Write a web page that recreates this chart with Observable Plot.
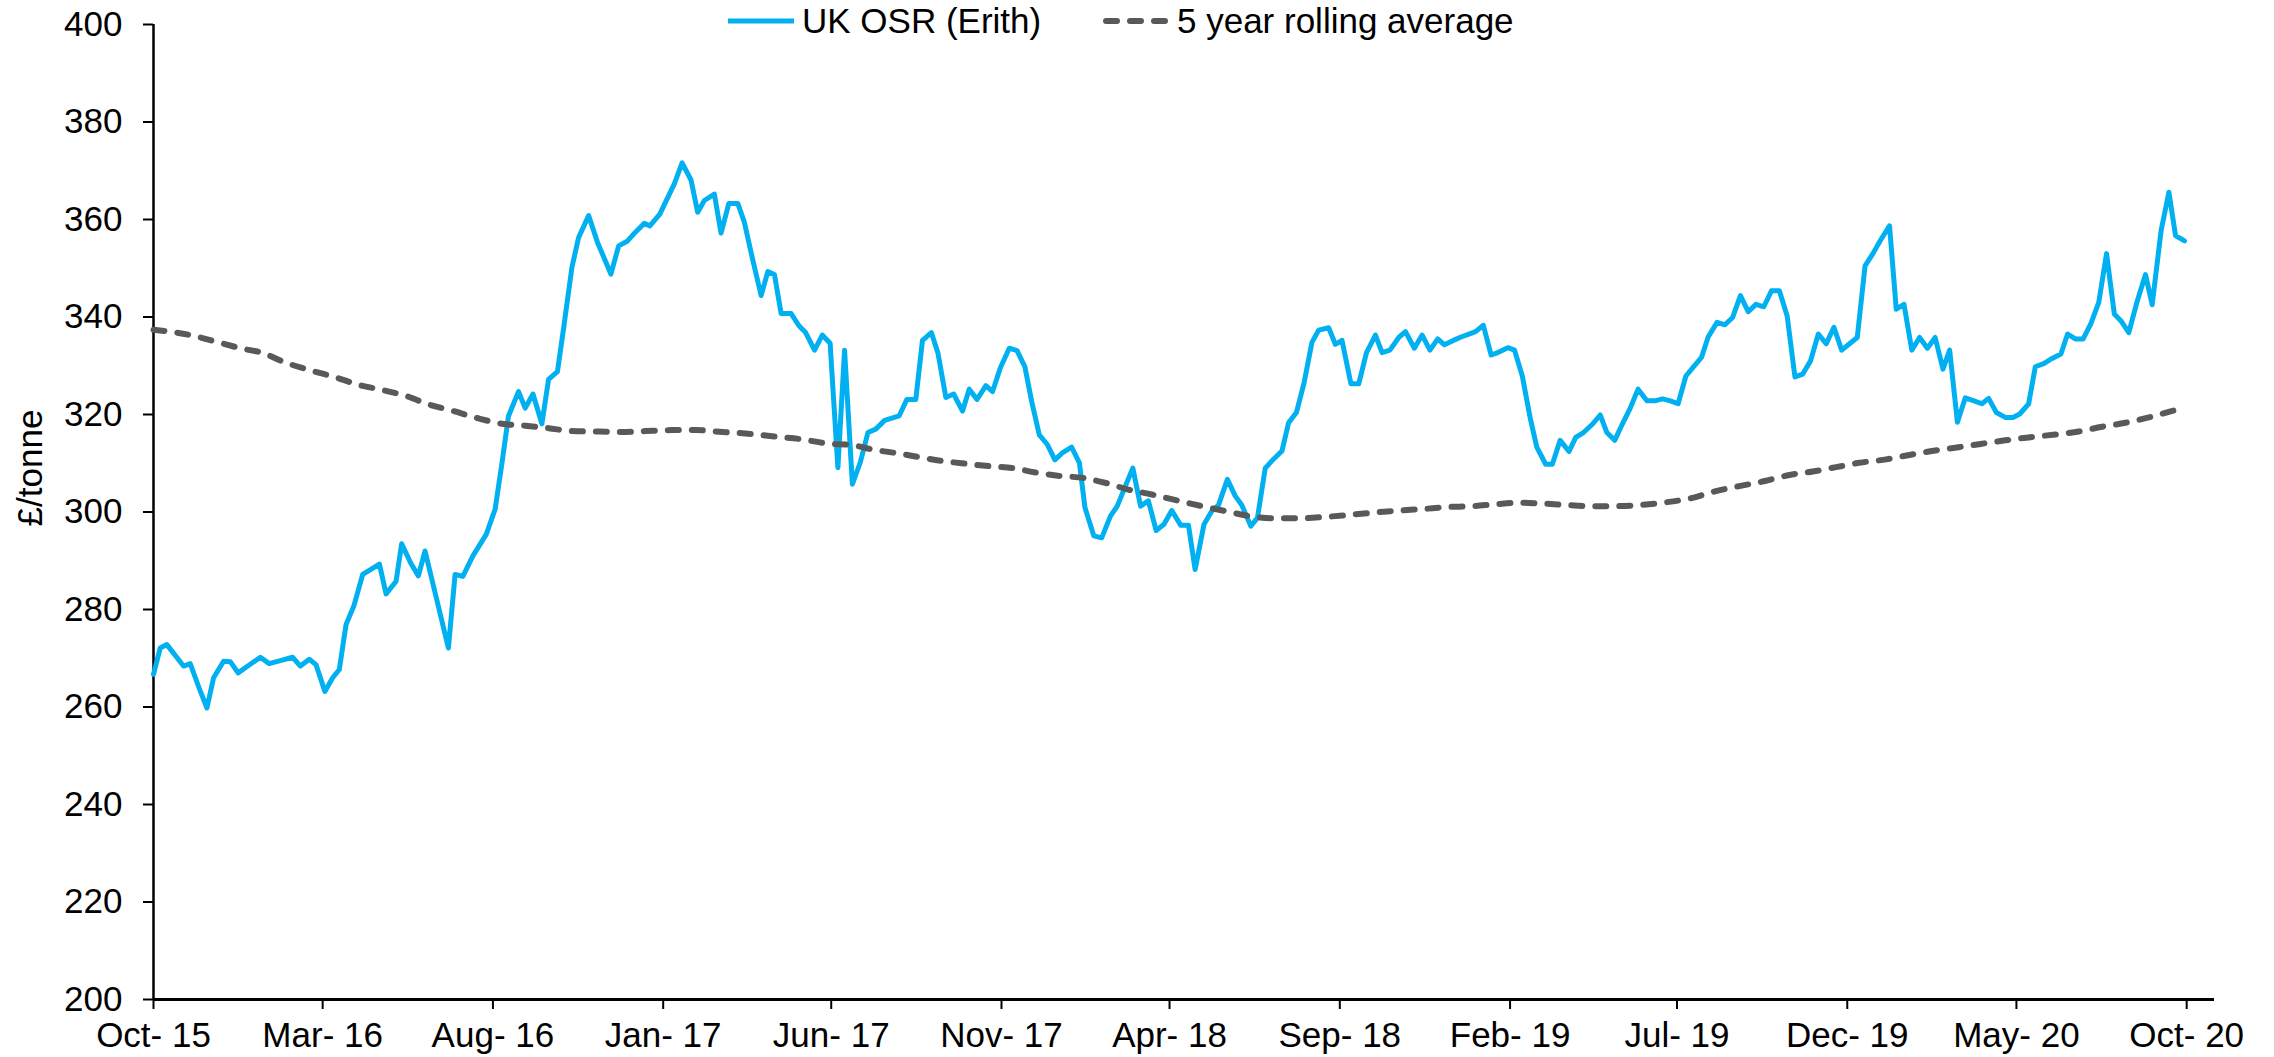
<!DOCTYPE html>
<html>
<head>
<meta charset="utf-8">
<script src="https://cdn.jsdelivr.net/npm/d3@7"></script>
<script src="https://cdn.jsdelivr.net/npm/@observablehq/plot@0.6"></script>
<style>
  html, body { margin: 0; padding: 0; background: #fff; }
  #wrap { position: relative; width: 2274px; height: 1057px; font-family: "Liberation Sans", Arial, sans-serif; color: #000; }
  #wrap svg { display: block; }
  .legend-item { position: absolute; top: 3px; height: 35px; display: flex; align-items: center; font-size: 35px; line-height: 35px; white-space: nowrap; }
  .legend-item svg { margin-right: 8px; }
  #ylabel { position: absolute; left: 30px; top: 468px; transform: translate(-50%, -50%) rotate(-90deg); font-size: 35px; white-space: nowrap; }
</style>
</head>
<body>
<div id="wrap"></div>
<script>
const seriesNames = ["UK OSR (Erith)", "5 year rolling average"];
const yTitle = "£/tonne";
const yTicks = [200, 220, 240, 260, 280, 300, 320, 340, 360, 380, 400];
const xTickDates = ["2015-10-01","2016-03-01","2016-08-01","2017-01-01","2017-06-01","2017-11-01","2018-04-01","2018-09-01","2019-02-01","2019-07-01","2019-12-01","2020-05-01","2020-10-01"];
const xTickLabels = ["Oct- 15","Mar- 16","Aug- 16","Jan- 17","Jun- 17","Nov- 17","Apr- 18","Sep- 18","Feb- 19","Jul- 19","Dec- 19","May- 20","Oct- 20"];
const xDomain = ["2015-10-01", "2020-10-26"];

const osrDates = [
"2015-10-01","2015-10-07","2015-10-13","2015-10-28","2015-11-03","2015-11-11","2015-11-18","2015-11-24","2015-12-03","2015-12-09",
"2015-12-16","2015-12-26","2016-01-05","2016-01-13","2016-01-23","2016-02-03","2016-02-10","2016-02-18","2016-02-24","2016-03-03",
"2016-03-10","2016-03-16","2016-03-22","2016-03-29","2016-04-06","2016-04-13","2016-04-21","2016-04-27","2016-05-06","2016-05-11",
"2016-05-19","2016-05-26","2016-06-01","2016-06-22","2016-06-28","2016-07-05","2016-07-14","2016-07-26","2016-08-03","2016-08-09",
"2016-08-15","2016-08-24","2016-08-30","2016-09-06","2016-09-14","2016-09-20","2016-09-28","2016-10-04","2016-10-11","2016-10-17",
"2016-10-26","2016-11-03","2016-11-15","2016-11-22","2016-11-30","2016-12-07","2016-12-15","2016-12-20","2016-12-29","2017-01-03",
"2017-01-11","2017-01-18","2017-01-26","2017-02-01","2017-02-07","2017-02-16","2017-02-22","2017-03-01","2017-03-09","2017-03-15",
"2017-03-22","2017-03-30","2017-04-05","2017-04-11","2017-04-17","2017-04-26","2017-05-03","2017-05-09","2017-05-17","2017-05-24",
"2017-05-31","2017-06-07","2017-06-13","2017-06-20","2017-06-27","2017-07-04","2017-07-11","2017-07-19","2017-08-01","2017-08-08",
"2017-08-16","2017-08-22","2017-08-30","2017-09-05","2017-09-12","2017-09-19","2017-09-27","2017-10-03","2017-10-10","2017-10-18",
"2017-10-24","2017-10-31","2017-11-08","2017-11-15","2017-11-22","2017-11-28","2017-12-05","2017-12-12","2017-12-19","2017-12-26",
"2018-01-03","2018-01-10","2018-01-15","2018-01-23","2018-01-30","2018-02-07","2018-02-13","2018-02-21","2018-02-27","2018-03-06",
"2018-03-13","2018-03-20","2018-03-27","2018-04-03","2018-04-11","2018-04-18","2018-04-24","2018-05-02","2018-05-09","2018-05-15",
"2018-05-23","2018-05-30","2018-06-05","2018-06-13","2018-06-19","2018-06-26","2018-07-02","2018-07-11","2018-07-17","2018-07-24",
"2018-07-31","2018-08-07","2018-08-13","2018-08-22","2018-08-28","2018-09-03","2018-09-11","2018-09-18","2018-09-25","2018-10-03",
"2018-10-09","2018-10-16","2018-10-24","2018-10-30","2018-11-07","2018-11-14","2018-11-21","2018-11-28","2018-12-04","2018-12-12",
"2018-12-19","2018-12-26","2019-01-01","2019-01-08","2019-01-15","2019-01-21","2019-01-30","2019-02-05","2019-02-12","2019-02-19",
"2019-02-25","2019-03-05","2019-03-11","2019-03-18","2019-03-26","2019-04-01","2019-04-08","2019-04-16","2019-04-23","2019-04-29",
"2019-05-06","2019-05-13","2019-05-20","2019-05-27","2019-06-04","2019-06-11","2019-06-18","2019-06-25","2019-07-02","2019-07-09",
"2019-07-16","2019-07-23","2019-07-29","2019-08-06","2019-08-13","2019-08-20","2019-08-27","2019-09-03","2019-09-10","2019-09-17",
"2019-09-24","2019-10-01","2019-10-08","2019-10-15","2019-10-22","2019-10-29","2019-11-05","2019-11-12","2019-11-19","2019-11-26",
"2019-12-03","2019-12-10","2019-12-17","2019-12-24","2019-12-31","2020-01-08","2020-01-14","2020-01-21","2020-01-28","2020-02-04",
"2020-02-11","2020-02-18","2020-02-25","2020-03-02","2020-03-09","2020-03-16","2020-03-24","2020-03-31","2020-04-06","2020-04-13",
"2020-04-21","2020-04-28","2020-05-04","2020-05-12","2020-05-18","2020-05-26","2020-06-02","2020-06-10","2020-06-16","2020-06-23",
"2020-06-30","2020-07-07","2020-07-14","2020-07-21","2020-07-28","2020-08-03","2020-08-10","2020-08-17","2020-08-25","2020-08-31",
"2020-09-08","2020-09-15","2020-09-21","2020-09-29"
];
const osrValues = [
266.7,272.1,272.8,268.4,268.9,263.9,259.8,266.0,269.4,269.3,
267.0,268.6,270.2,268.9,269.5,270.2,268.4,269.8,268.7,263.2,
266.0,267.7,276.9,280.7,287.2,288.2,289.3,283.2,285.8,293.5,
289.6,286.9,292.0,272.1,287.2,286.8,291.0,295.4,300.6,309.8,
319.7,324.7,321.3,324.2,318.1,327.2,328.8,338.5,350.2,356.3,
360.8,355.3,348.8,354.6,355.6,357.4,359.2,358.7,361.1,363.5,
367.3,371.6,368.1,361.5,363.9,365.2,357.2,363.3,363.3,359.4,
352.2,344.4,349.3,348.7,340.7,340.7,338.2,336.8,333.2,336.3,
334.6,309.1,333.2,305.7,310.1,316.3,317.0,318.8,319.7,323.1,
323.1,335.2,336.8,332.5,323.5,324.2,320.7,325.2,323.1,325.9,
324.7,329.6,333.6,333.1,329.8,322.8,315.8,313.9,310.7,312.2,
313.3,310.1,300.9,295.1,294.7,299.2,301.2,305.7,309.0,301.2,
302.3,296.2,297.5,300.3,297.3,297.3,288.2,297.5,300.2,301.4,
306.7,303.3,301.4,297.1,298.8,309.0,310.5,312.5,318.3,320.4,
326.6,334.8,337.3,337.8,334.4,335.2,326.3,326.3,332.7,336.3,
332.7,333.2,335.8,337.0,333.6,336.3,333.2,335.5,334.3,335.2,
335.9,336.5,337.0,338.3,332.2,332.7,333.7,333.2,327.9,319.4,
313.3,309.8,309.8,314.7,312.4,315.3,316.3,318.0,319.9,316.3,
314.7,318.1,321.3,325.2,322.8,322.8,323.2,322.8,322.2,327.9,
329.8,331.7,335.9,338.9,338.4,339.9,344.4,341.1,342.6,342.1,
345.4,345.4,340.2,327.7,328.3,331.0,336.5,334.5,337.9,333.2,
334.5,335.8,350.5,353.0,355.8,358.7,341.6,342.6,333.2,335.8,
333.6,335.8,329.3,333.2,318.4,323.4,322.8,322.2,323.3,320.4,
319.4,319.4,320.1,322.2,329.8,330.5,331.5,332.4,336.5,335.5,
335.5,338.7,343.0,353.0,340.6,339.2,336.8,342.8,348.7,342.5,
357.7,365.6,356.7,355.6
];

const avgDates = [
"2015-10-01","2015-11-07","2015-11-28","2015-12-20","2016-01-06","2016-01-27","2016-02-20","2016-03-13","2016-04-02","2016-04-24",
"2016-05-15","2016-06-04","2016-06-25","2016-07-19","2016-08-09","2016-08-30","2016-09-20","2016-10-11","2016-11-04","2016-11-25",
"2016-12-16","2017-01-09","2017-01-30","2017-02-23","2017-03-16","2017-04-14","2017-05-06","2017-05-30","2017-06-17","2017-07-11",
"2017-08-01","2017-08-18","2017-09-08","2017-09-30","2017-10-21","2017-11-11","2017-12-02","2017-12-23","2018-01-13","2018-02-02",
"2018-02-23","2018-03-16","2018-04-09","2018-04-30","2018-05-21","2018-06-11","2018-07-05","2018-07-26","2018-08-19","2018-09-09",
"2018-10-03","2018-10-24","2018-11-14","2018-12-05","2018-12-29","2019-01-19","2019-02-08","2019-03-05","2019-03-26","2019-04-16",
"2019-05-07","2019-05-28","2019-06-18","2019-07-15","2019-08-05","2019-08-26","2019-09-19","2019-10-10","2019-10-31","2019-11-21",
"2019-12-12","2020-01-05","2020-01-26","2020-02-15","2020-03-10","2020-03-31","2020-04-21","2020-05-12","2020-06-05","2020-06-26",
"2020-07-17","2020-08-07","2020-08-28","2020-09-21","2020-09-29"
];
const avgValues = [
337.4,336.1,334.8,333.5,332.7,330.7,329.0,327.6,326.1,325.0,
323.8,322.1,320.8,319.2,318.1,317.7,317.2,316.6,316.5,316.4,
316.6,316.8,316.8,316.4,316.1,315.4,314.9,314.0,313.8,312.7,
312.0,311.3,310.5,309.9,309.4,309.0,308.1,307.4,307.0,306.0,
304.6,303.6,302.3,301.2,300.2,299.2,298.7,298.7,299.0,299.4,
299.9,300.3,300.6,301.0,301.2,301.6,301.9,301.7,301.4,301.2,
301.2,301.4,301.9,302.9,304.3,305.3,306.4,307.6,308.3,309.2,
310.1,310.8,311.7,312.5,313.3,314.0,314.7,315.3,315.9,316.5,
317.5,318.3,319.4,320.9,321.3
];

const colors = ["#00B0F0", "#595959"];

const osr = osrDates.map((d, i) => ({date: new Date(d), value: osrValues[i]}));
const avg = avgDates.map((d, i) => ({date: new Date(d), value: avgValues[i]}));
const tickDates = xTickDates.map(d => new Date(d));
const labelMap = new Map(tickDates.map((d, i) => [+d, xTickLabels[i]]));

const chart = Plot.plot({
  width: 2274,
  height: 1057,
  marginLeft: 153,
  marginRight: 60,
  marginTop: 24,
  marginBottom: 58,
  style: {fontFamily: '"Liberation Sans", Arial, sans-serif', fontSize: "35px", color: "#000", background: "#fff", maxWidth: "none"},
  x: {type: "utc", domain: xDomain.map(d => new Date(d))},
  y: {domain: [yTicks[0], yTicks[yTicks.length - 1]]},
  marks: [
    Plot.axisY({ticks: yTicks, tickSize: 10, tickPadding: 21, strokeWidth: 2, label: null, fontSize: 35}),
    Plot.axisX({ticks: tickDates, tickSize: 10, tickPadding: 13, strokeWidth: 2, label: null, fontSize: 35, tickFormat: d => labelMap.get(+d)}),
    Plot.ruleY([yTicks[0]], {stroke: "#000", strokeWidth: 3}),
    Plot.ruleX([new Date(xDomain[0])], {stroke: "#000", strokeWidth: 2.5}),
    Plot.line(osr, {x: "date", y: "value", stroke: colors[0], strokeWidth: 5, strokeLinejoin: "round", strokeLinecap: "round"}),
    Plot.line(avg, {x: "date", y: "value", stroke: colors[1], strokeWidth: 6, strokeDasharray: "11,13", strokeLinecap: "round", curve: "monotone-x"})
  ]
});

const wrap = document.getElementById("wrap");
wrap.appendChild(chart);

// legend overlay
function legendItem(left, name, color, dashed) {
  const item = document.createElement("div");
  item.className = "legend-item";
  item.style.left = left + "px";
  const ns = "http://www.w3.org/2000/svg";
  const sw = document.createElementNS(ns, "svg");
  sw.setAttribute("width", 66);
  sw.setAttribute("height", 12);
  const ln = document.createElementNS(ns, "line");
  ln.setAttribute("x1", dashed ? 3 : 0);
  ln.setAttribute("x2", dashed ? 63 : 66);
  ln.setAttribute("y1", 6);
  ln.setAttribute("y2", 6);
  ln.setAttribute("stroke", color);
  ln.setAttribute("stroke-width", dashed ? 6 : 5);
  if (dashed) { ln.setAttribute("stroke-dasharray", "11,13"); ln.setAttribute("stroke-linecap", "round"); }
  sw.appendChild(ln);
  item.appendChild(sw);
  const t = document.createElement("span");
  t.textContent = name;
  item.appendChild(t);
  wrap.appendChild(item);
}
legendItem(728, seriesNames[0], colors[0], false);
legendItem(1103, seriesNames[1], colors[1], true);

const yl = document.createElement("div");
yl.id = "ylabel";
yl.textContent = yTitle;
wrap.appendChild(yl);
</script>
</body>
</html>
